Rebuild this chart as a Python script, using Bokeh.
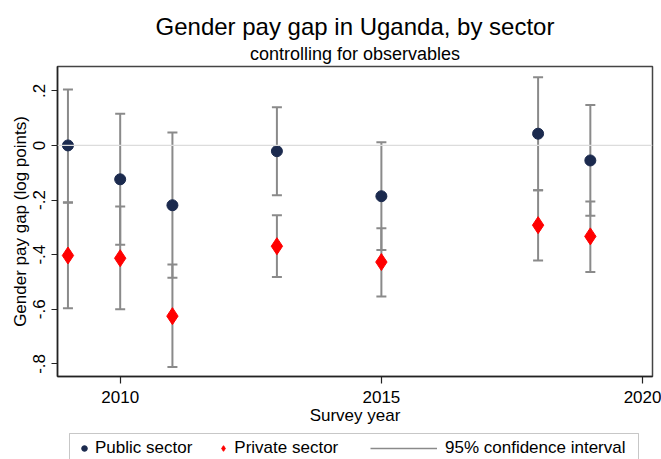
from bokeh.plotting import figure
from bokeh.layouts import column
from bokeh.models import (Range1d, FixedTicker, Legend, LegendItem, Title, Span,
                          BoxAnnotation)
from bokeh.embed import file_html
from bokeh.resources import INLINE

# ---- data ----
years = [2009, 2010, 2011, 2013, 2015, 2018, 2019]
public = [0.000, -0.124, -0.219, -0.021, -0.186, 0.043, -0.055]
public_lo = [-0.208, -0.364, -0.484, -0.182, -0.383, -0.164, -0.257]
public_hi = [0.205, 0.116, 0.047, 0.140, 0.012, 0.250, 0.148]
private = [-0.403, -0.413, -0.625, -0.369, -0.427, -0.292, -0.333]
private_lo = [-0.596, -0.600, -0.811, -0.482, -0.553, -0.421, -0.463]
private_hi = [-0.210, -0.224, -0.436, -0.256, -0.303, -0.164, -0.205]

y_ticks = [-0.8, -0.6, -0.4, -0.2, 0.0, 0.2]
y_tick_labels = ["-.8", "-.6", "-.4", "-.2", "0", ".2"]
x_ticks = [2010, 2015, 2020]
legend_labels = ["Public sector", "Private sector", "95% confidence interval"]

FONT = "Liberation Sans"
NAVY = "#1b2a4e"
RED = "#ff0000"
GRAY = "#8a8a8a"
DARK = "#222222"

p = figure(width=661, height=428, output_backend="svg", toolbar_location=None,
           x_range=Range1d(2008.8, 2020.19), y_range=Range1d(-0.846, 0.289),
           min_border_left=57, min_border_right=9, min_border_top=66,
           min_border_bottom=52)
p.background_fill_color = "white"
p.border_fill_color = "white"
p.outline_line_color = "#444444"
p.outline_line_width = 1.5
p.xgrid.visible = False
p.ygrid.visible = False

# titles (last added is on top)
p.add_layout(Title(text="controlling for observables", align="center",
                   text_font=FONT, text_font_size="18px", text_font_style="normal",
                   text_color="#000000", standoff=5), "above")
p.add_layout(Title(text="Gender pay gap in Uganda, by sector", align="center",
                   text_font=FONT, text_font_size="24px", text_font_style="normal",
                   text_color="#000000", standoff=0), "above")

# zero line
p.add_layout(Span(location=0, dimension="width", line_color="#dcdcdc", line_width=1.2))

# error bars
caps_w = 10
p.segment(x0=years, y0=public_lo, x1=years, y1=public_hi, line_color=GRAY, line_width=2)
p.scatter(x=years, y=public_lo, marker="dash", size=caps_w, line_color=GRAY, line_width=2)
p.scatter(x=years, y=public_hi, marker="dash", size=caps_w, line_color=GRAY, line_width=2)
p.segment(x0=years, y0=private_lo, x1=years, y1=private_hi, line_color=GRAY, line_width=2)
p.scatter(x=years, y=private_lo, marker="dash", size=caps_w, line_color=GRAY, line_width=2)
p.scatter(x=years, y=private_hi, marker="dash", size=caps_w, line_color=GRAY, line_width=2)

p.scatter(x=years, y=public, marker="circle", size=11, fill_color=NAVY, line_color=NAVY)
p.scatter(x=years, y=private, marker="diamond", size=17, fill_color=RED, line_color=RED)

# axes
p.yaxis.ticker = FixedTicker(ticks=y_ticks)
p.yaxis.major_label_overrides = {t: l for t, l in zip(y_ticks, y_tick_labels)}
p.yaxis.major_label_orientation = "vertical"
p.yaxis.axis_label = "Gender pay gap (log points)"
p.xaxis.ticker = FixedTicker(ticks=x_ticks)
p.xaxis.axis_label = "Survey year"
for ax in (p.xaxis, p.yaxis):
    ax.axis_line_color = DARK
    ax.axis_line_width = 1.5
    ax.major_tick_line_color = DARK
    ax.major_tick_line_width = 1.2
    ax.major_tick_in = 0
    ax.minor_tick_line_color = None
    ax.major_label_text_font = FONT
    ax.major_label_text_font_size = "17px"
    ax.major_label_text_color = "#000000"
    ax.axis_label_text_font = FONT
    ax.axis_label_text_font_size = "17px"
    ax.axis_label_text_font_style = "normal"
    ax.axis_label_text_color = "#000000"
p.xaxis.major_tick_out = 7
p.yaxis.major_tick_out = 6
p.xaxis.major_label_standoff = 7
p.xaxis.axis_label_standoff = 0
p.yaxis.major_label_standoff = 6
p.yaxis.axis_label_standoff = 1

# ---- legend strip (separate figure below the chart; its frame is aligned
#      with the chart's frame, x 57..652 px, so data units = page pixels) ----
lf = figure(width=661, height=31, output_backend="svg", toolbar_location=None,
            x_range=Range1d(57, 652), y_range=Range1d(0, 31),
            min_border=0, min_border_left=57, min_border_right=9,
            outline_line_color=None)
lf.axis.visible = False
lf.grid.visible = False
lf.background_fill_color = "white"
lf.border_fill_color = "white"
# sample renderers for the legend keys (their points fall outside this strip's range)
lg_pub = lf.scatter(x=years[:1], y=public[:1], marker="circle", size=9,
                    fill_color=NAVY, line_color=NAVY)
lg_prv = lf.scatter(x=years[:1], y=private[:1], marker="diamond", size=19,
                    fill_color=RED, line_color=RED)
lg_ci = lf.segment(x0=years[:1], y0=public_lo[:1], x1=years[:1], y1=public_hi[:1],
                   line_color=GRAY, line_width=1.5)

lf.add_layout(BoxAnnotation(left=69, right=638, top=26, bottom=-10,
                            fill_color=None, line_color="#444444", line_width=1))

def style(lg, gw, st):
    lg.label_text_font = FONT
    lg.label_text_font_size = "17px"
    lg.label_text_color = "#000000"
    lg.border_line_color = None
    lg.background_fill_color = None
    lg.background_fill_alpha = 0
    lg.padding = 0
    lg.margin = 0
    lg.spacing = 24
    lg.glyph_width = gw
    lg.label_standoff = st
    lg.label_height = 20
    lg.glyph_height = 20

legA = Legend(items=[LegendItem(label=legend_labels[0], renderers=[lg_pub]),
                     LegendItem(label=legend_labels[1], renderers=[lg_prv])],
              orientation="horizontal", location=(77 - 57, 1))
style(legA, 14, 4)
legB = Legend(items=[LegendItem(label=legend_labels[2], renderers=[lg_ci])],
              orientation="horizontal", location=(370 - 57, 1))
style(legB, 67, 8)
lf.add_layout(legA, "center")
lf.add_layout(legB, "center")

layout = column(p, lf, spacing=0)
open("out.html", "w").write(file_html(layout, INLINE))
